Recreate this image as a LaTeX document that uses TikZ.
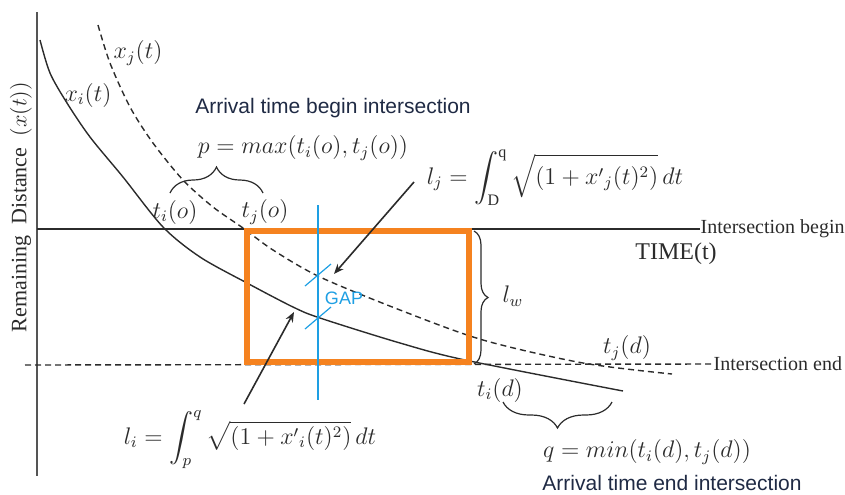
\documentclass[tikz,border=0pt]{standalone}
\usepackage{amsmath}
\usepackage{fontspec}
\setmainfont{Liberation Serif}
\setsansfont{Liberation Sans}
\usepackage{xcolor}
\definecolor{ink}{HTML}{2B2B2B}
\definecolor{navy}{HTML}{1F2A44}
\definecolor{boxorange}{HTML}{F5821F}
\definecolor{gapblue}{HTML}{1E9FE3}
\usetikzlibrary{arrows.meta,decorations.pathreplacing}
\tikzset{
  every picture/.style={line width=0.7pt},
  lbl/.style={inner sep=0pt, text=ink, font=\fontsize{12}{14}\selectfont},
  caption/.style={inner sep=0pt, text=navy, font=\sffamily\fontsize{10.5}{12}\selectfont},
  tag/.style={inner sep=0pt, text=ink, font=\fontsize{10}{11}\selectfont},
  curve/.style={draw=ink, line width=0.7pt},
  dashcurve/.style={curve, dash pattern=on 3pt off 2pt},
  arrow/.style={-{Stealth[length=5pt, width=4pt]}, draw=ink, line width=0.8pt},
  brace/.style={decorate, decoration={brace, amplitude=#1}, draw=ink, line width=0.6pt},
  brace/.default=13pt,
}

\begin{document}
\begin{tikzpicture}[x=0.5pt, y=-0.5pt,
    gapbox/.style={draw=boxorange, line width=2.8pt},
    gapline/.style={draw=gapblue, line width=0.9pt}]
  \useasboundingbox (0,0) rectangle (845,494);
  % axis and the two intersection lines
  \coordinate (top) at (37,12);
  \coordinate (bot) at (37,476);
  \draw[line width=1pt, draw=ink!80] (top) -- (bot);
  \node[tag, anchor=west] (ib) at (700,229) {Intersection begin};
  \node[tag, anchor=west] (ie) at (713,364) {Intersection end};
  \coordinate (ibstart) at (37,229);
  \coordinate (iestart) at (25,365);
  \draw[curve] (ibstart) -- (ib.west);
  \draw[curve, dash pattern=on 3pt off 2pt] (iestart) -- (ie.west);
  % trajectories
  \draw[curve] plot[smooth] coordinates {(40,40) (50,73) (67,103) (90,137) (123,177) (163,227) (200,257) (247,283) (293,307) (320,318) (400,343) (465,360) (623,391)};
  \draw[dashcurve] plot[smooth] coordinates {(98,25) (110,63) (130,107) (153,143) (183,180) (213,207) (243,228) (273,250) (320,277) (400,310) (483,340) (583,363) (672,374)};
  % intersection window
  \coordinate (p) at (247,231);
  \coordinate (q) at (469,362);
  \draw[gapbox] (p) rectangle (q);
  \coordinate (gtop) at (318,205);
  \coordinate (gbot) at (318,400);
  \draw[gapline] (gtop) -- (gbot);
  \foreach \y in {275,318} \draw[gapline, line width=0.6pt] (318,\y) ++(-13,11) -- ++(26,-22);
  \node[inner sep=0pt, text=gapblue, font=\sffamily\fontsize{9}{10}\selectfont] (gap) at (344,298) {GAP};
  % braces
  \coordinate (pb1) at (170,193);
  \coordinate (pb2) at (263,193);
  \draw[brace] (pb1) -- (pb2);
  \coordinate (wb1) at (474,231);
  \coordinate (wb2) at (474,364);
  \draw[brace=7pt] (wb1) -- (wb2);
  \coordinate (qb1) at (612,402);
  \coordinate (qb2) at (503,402);
  \draw[brace] (qb1) -- (qb2);
  % arc length arrows
  \coordinate (ljtail) at (414,182);
  \coordinate (ljtip) at (334,274);
  \draw[arrow] (ljtail) -- (ljtip);
  \coordinate (litail) at (244,404);
  \coordinate (litip) at (294,312);
  \draw[arrow] (litail) -- (litip);
  % labels
  \node[lbl] (xj) at (138,53) {$x_j(t)$};
  \node[lbl] (xi) at (88,95) {$x_i(t)$};
  \node[caption] (arrb) at (333,108) {Arrival time begin intersection};
  \node[lbl] (pmax) at (303,148) {$p = max(t_i(o),t_j(o))$};
  \node[lbl] (tio) at (175,212) {$t_i(o)$};
  \node[lbl] (tjo) at (265,212) {$t_j(o)$};
  \node[lbl] (lj) at (555,178) {$l_j = \displaystyle\int_{\mathrm{D}}^{\mathrm{q}} \sqrt{(1+{x'}_j(t)^2)}\,dt$};
  \node[lbl] (time) at (676,254) {TIME(t)};
  \node[lbl] (lw) at (513,296) {$l_w$};
  \node[lbl] (tjd) at (627,348) {$t_j(d)$};
  \node[lbl] (tid) at (500,390) {$t_i(d)$};
  \node[lbl] (li) at (250,440) {$l_i = \displaystyle\int_p^q \sqrt{(1+{x'}_i(t)^2)}\,dt$};
  \node[lbl] (qmin) at (647,452) {$q = min(t_i(d),t_j(d))$};
  \node[caption] (arre) at (672,483) {Arrival time end intersection};
  \node[lbl, font=\fontsize{11}{13}\selectfont, rotate=90] (ylab) at (21,207) {Remaining\ \ Distance\ \ $(x(t))$};
\end{tikzpicture}
\end{document}
